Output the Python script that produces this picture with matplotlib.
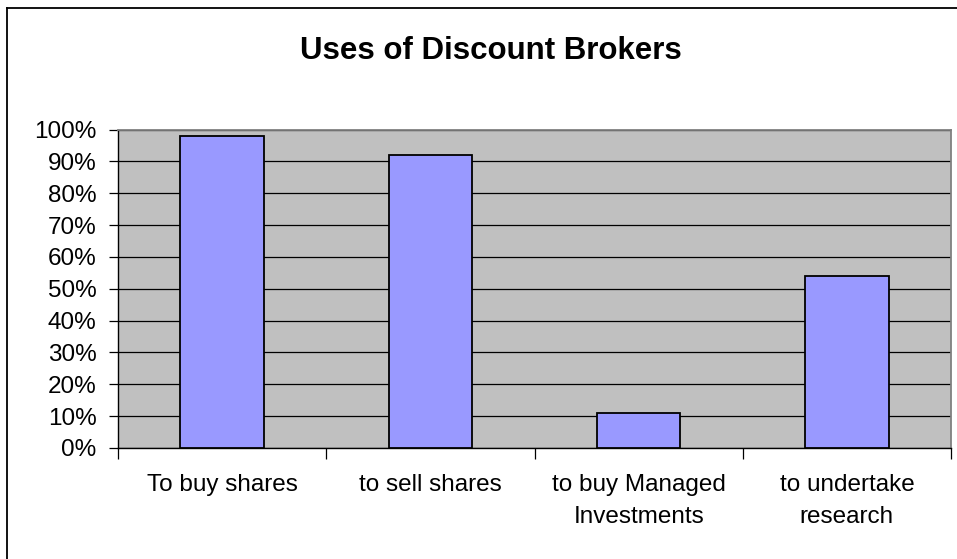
import matplotlib
matplotlib.use("Agg")
import matplotlib.pyplot as plt
from matplotlib.lines import Line2D
import numpy as np

title = "Uses of Discount Brokers"
categories = ["To buy shares", "to sell shares", "to buy Managed\nInvestments", "to undertake\nresearch"]
values = [98, 92, 11, 54]
yticks = [0, 10, 20, 30, 40, 50, 60, 70, 80, 90, 100]
ytick_labels = [f"{v}%" for v in yticks]

plt.rcParams['font.family'] = ['Liberation Sans', 'DejaVu Sans']

W, H = 957, 559
fig = plt.figure(figsize=(W / 100, H / 100), dpi=100)
fig.patch.set_facecolor('white')

# outer chart border (left and top visible)
fig.add_artist(Line2D([7.5 / W, 7.5 / W], [0, 1 - 7.5 / H], transform=fig.transFigure,
                      color='black', lw=1.3))
fig.add_artist(Line2D([7.5 / W, 1.0], [1 - 7.5 / H, 1 - 7.5 / H], transform=fig.transFigure,
                      color='black', lw=1.3))

left, right, top, bottom = 118, 951, 129.5, 448
ax = fig.add_axes([left / W, 1 - bottom / H, (right - left) / W, (bottom - top) / H])
ax.set_facecolor('#C0C0C0')

x = np.arange(len(categories))
ax.bar(x, values, width=0.40, color='#9999FF', edgecolor='black', linewidth=1.3, zorder=3)

ax.set_xlim(-0.5, len(categories) - 0.5)
ax.set_ylim(0, 100)
ax.set_yticks(yticks)
ax.set_yticklabels(ytick_labels, fontsize=17.5)
ax.yaxis.grid(True, color='black', linewidth=0.9, zorder=1)
ax.set_axisbelow(True)

ax.set_xticks(x)
ax.set_xticklabels(categories, fontsize=17.5, linespacing=1.58)
ax.tick_params(axis='x', which='major', length=0, pad=19)
ax.set_xticks(np.arange(len(categories) + 1) - 0.5, minor=True)
ax.tick_params(axis='x', which='minor', length=8, width=0.9, color='black', direction='out')
ax.tick_params(axis='y', which='major', length=6.5, width=0.9, color='black', direction='out', pad=9)

for s in ['top', 'right']:
    ax.spines[s].set_color('#808080')
    ax.spines[s].set_linewidth(1.3)
for s in ['left', 'bottom']:
    ax.spines[s].set_color('black')
    ax.spines[s].set_linewidth(1.0)

fig.text(491 / W, 1 - 51 / H, title, ha='center', va='center', fontsize=22.5, fontweight='bold')

fig.savefig("out.png", dpi=100, facecolor='white')
